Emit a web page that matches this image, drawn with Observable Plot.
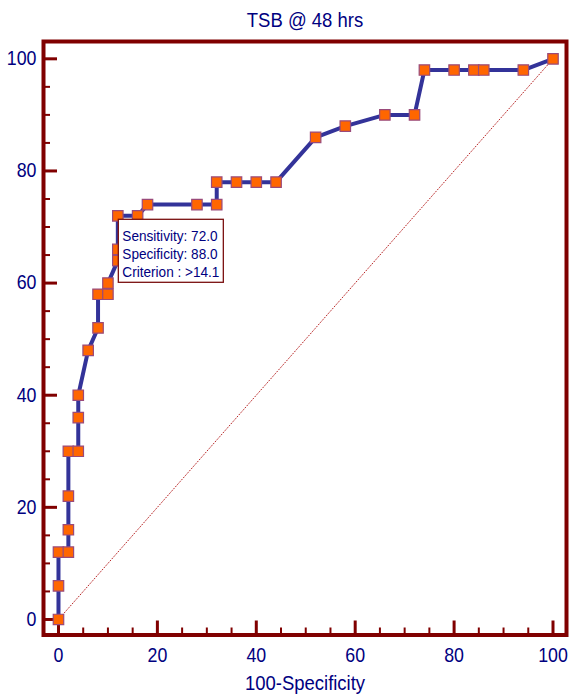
<!DOCTYPE html>
<html><head><meta charset="utf-8">
<script src="https://cdn.jsdelivr.net/npm/d3@7"></script>
<script src="https://cdn.jsdelivr.net/npm/@observablehq/plot@0.6"></script>
<style>body{margin:0;background:#fff} #chart svg{display:block}</style>
</head><body><div id="chart"></div>
<script>
const title = "TSB @ 48 hrs";
const xLabel = "100-Specificity";
const fpr = [0,0,0,2,2,2,2,4,4,4,6,8,8,10,10,12,12,12,16,18,28,32,32,36,40,44,52,58,66,72,74,80,84,86,94,100];
const sensitivity = [0,6,12,12,16,22,30,30,36,40,48,52,58,58,60,64,66,72,72,74,74,74,78,78,78,78,86,88,90,90,98,98,98,98,98,100];
const majorTicks = [0,20,40,60,80,100];
const minorTicks = [5,10,15,25,30,35,45,50,55,65,70,75,85,90,95];
const critSensitivity = 72.0;
const critSpecificity = 88.0;
const criterion = ">14.1";

const points = fpr.map((x, i) => ({x, y: sensitivity[i]}));
const lo = majorTicks[0], hi = majorTicks[majorTicks.length - 1];
const diagonal = [{x: lo, y: lo}, {x: hi, y: hi}];
const tipLines = [
  `Sensitivity: ${critSensitivity.toFixed(1)}`,
  `Specificity: ${critSpecificity.toFixed(1)}`,
  `Criterion : ${criterion}`
];

const maroon = "#800000", navy = "#000080";
const FONT = "'Liberation Sans', Arial, sans-serif";

function tooltipMark(index, scales) {
  const px = scales.x(100 - critSpecificity), py = scales.y(critSensitivity);
  const g = d3.create("svg:g");
  const left = px + 1, top = py + 4;
  g.append("rect").attr("x", left).attr("y", top).attr("width", 105).attr("height", 63)
    .attr("fill", "white").attr("stroke", "#7a1010").attr("stroke-width", 1.3);
  g.selectAll("text").data(tipLines).join("text")
    .attr("class", "tip-text")
    .attr("transform", (d, i) => `translate(${left + 4},${top + 22 + i * 17.8}) scale(1,1.14)`)
    .attr("fill", navy).attr("font-size", 13.6)
    .attr("text-anchor", "start")
    .attr("font-family", FONT)
    .text(d => d);
  return g.node();
}

const chart = Plot.plot({
  width: 569, height: 695,
  marginLeft: 43, marginRight: 3, marginTop: 41, marginBottom: 60.5,
  x: {domain: [-3.03, 102.73]},
  y: {domain: [-2.77, 103.09]},
  style: {fontFamily: FONT, background: "white"},
  marks: [
    Plot.axisX({ticks: majorTicks, tickSize: -14, stroke: maroon, strokeWidth: 3, fill: "none", label: null}),
    Plot.axisX({ticks: minorTicks, tickSize: -7, stroke: maroon, strokeWidth: 2, fill: "none", label: null}),
    Plot.axisY({ticks: majorTicks, tickSize: -14, stroke: maroon, strokeWidth: 3, fill: "none", label: null}),
    Plot.axisY({ticks: minorTicks, tickSize: -7, stroke: maroon, strokeWidth: 2, fill: "none", label: null}),
    Plot.axisX({ticks: majorTicks, tickSize: 0, tickPadding: 13, fill: navy, fontSize: 17.8, label: null}),
    Plot.axisY({ticks: majorTicks, tickSize: 0, tickPadding: 7, fill: navy, fontSize: 17.8, label: null}),
    Plot.frame({stroke: maroon, strokeWidth: 4}),
    Plot.line(diagonal, {x: "x", y: "y", stroke: "#b01010", strokeWidth: 0.9, strokeDasharray: "1,2"}),
    Plot.line(points, {x: "x", y: "y", stroke: "#333399", strokeWidth: 4, strokeLinejoin: "round"}),
    Plot.dot(points, {x: "x", y: "y", symbol: "square", r: 5.9, fill: "#ff6600", stroke: "#9a4a7a", strokeWidth: 1.2}),
    tooltipMark,
    Plot.text([title], {text: d => d, frameAnchor: "top", lineAnchor: "bottom", dy: -14.3, fontSize: 18.5, fill: navy}),
    Plot.text([xLabel], {text: d => d, frameAnchor: "bottom", lineAnchor: "bottom", dy: 55, fontSize: 18.5, fill: navy})
  ]
});

// Slight vertical stretch of Plot's own text glyphs, as in the reference rendering
d3.select(chart).selectAll("text").each(function() {
  if (this.classList.contains("tip-text")) return;
  const s = 1.12;
  const x = +this.getAttribute("x") || 0, y = +this.getAttribute("y") || 0;
  const t = this.getAttribute("transform") || "";
  this.setAttribute("transform", `${t} translate(${x},${y}) scale(1,${s}) translate(${-x},${-y})`);
});

document.getElementById("chart").append(chart);
</script>
</body></html>
